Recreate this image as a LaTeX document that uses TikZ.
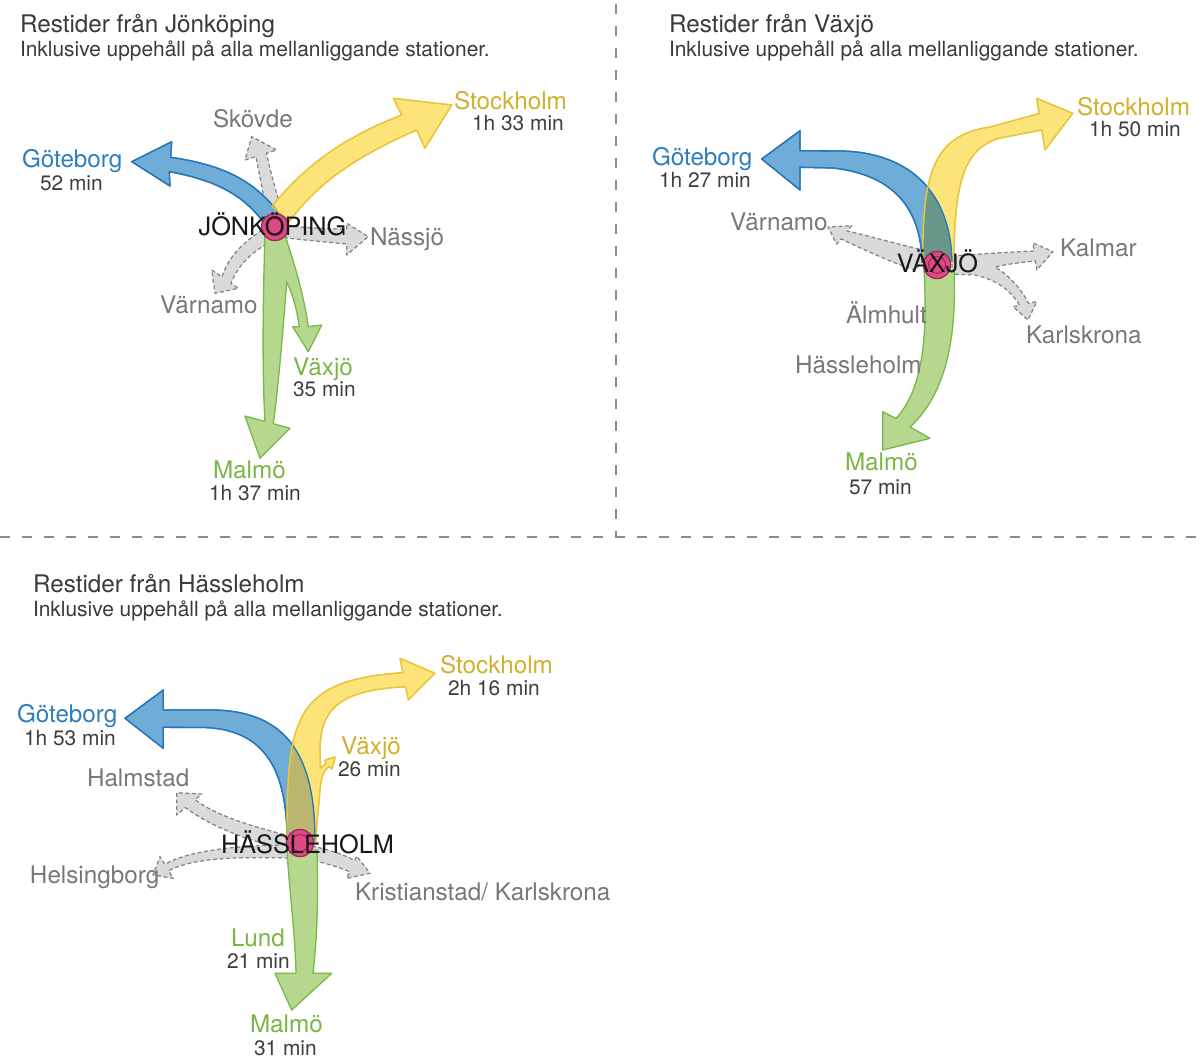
\documentclass[tikz,border=0pt]{standalone}
\usepackage{fontspec}
\setmainfont{TeX Gyre Heros}
\definecolor{blueF}{RGB}{112,172,216}
\definecolor{blueB}{RGB}{40,120,185}
\definecolor{yellowF}{RGB}{252,228,122}
\definecolor{yellowB}{RGB}{234,198,60}
\definecolor{greenF}{RGB}{182,216,142}
\definecolor{greenB}{RGB}{122,184,74}
\definecolor{grayF}{RGB}{218,218,218}
\definecolor{grayB}{RGB}{130,130,130}
\definecolor{ovTeal}{RGB}{104,152,138}
\definecolor{ovOlive}{RGB}{186,182,112}
\definecolor{ovJ}{RGB}{168,190,130}
\definecolor{pinkF}{RGB}{222,72,132}
\definecolor{pinkB}{RGB}{158,38,88}
\definecolor{titleC}{RGB}{58,58,58}
\definecolor{grayT}{RGB}{120,120,120}
\definecolor{timeC}{RGB}{62,62,62}
\definecolor{blueT}{RGB}{46,126,190}
\definecolor{yellowT}{RGB}{208,176,44}
\definecolor{greenT}{RGB}{122,182,70}
\definecolor{hubtext}{RGB}{24,24,24}
\definecolor{sepc}{RGB}{140,140,140}
% ---------- Jonkoping shapes
\def\JBlue{(278,212) .. controls (255,182) and (225,165) .. (170.7,157.3) -- (171.7,141.7) -- (131.7,161.7) -- (170,186) -- (169.3,171.7) .. controls (215,180) and (245,195) .. (266,226) -- cycle}
\def\JYellow{(272,206) .. controls (310,160) and (350,135) .. (401.7,115) -- (393.3,98.3) -- (451.7,105) -- (425,148.3) -- (416.7,130) .. controls (360,155) and (320,180) .. (289,222) -- cycle}
\def\JGreen{(265,232) .. controls (263,300) and (262,370) .. (265,421.5) -- (245,416) -- (260,458.3) -- (290,428.3) -- (273.3,423.7) .. controls (279,380) and (283,330) .. (286.7,282) .. controls (293,295) and (297,310) .. (299.3,326.7) -- (292.7,326.7) -- (308.3,351.7) -- (321.7,325) -- (308.3,326.7) .. controls (303,290) and (293,260) .. (284,232) -- cycle}
\def\JSkovde{(266,226) .. controls (266,200) and (260,180) .. (256,156.5) -- (245,160) -- (251.7,136.7) -- (276.7,150) -- (266.5,153.2) .. controls (272,180) and (280,200) .. (282,222) -- cycle}
\def\JNassjo{(288,226) .. controls (310,228) and (330,229) .. (346.7,229) -- (346.7,223.3) -- (368.3,236.7) -- (346.7,255) -- (346.7,244) .. controls (325,242) and (305,240) .. (286,238) -- cycle}
\def\JVarnamo{(262,230) .. controls (240,245) and (228,258) .. (222,277) -- (211.7,270) -- (215,293.3) -- (238.3,288.3) -- (231,283.3) .. controls (238,265) and (252,252) .. (270,242) -- cycle}
% ---------- Vaxjo shapes
\def\VBlue{(952,262) .. controls (951,195) and (912,152) .. (840,151) -- (800,150.7) -- (800,130.7) -- (761.7,159) -- (800,190) -- (800,167.3) -- (833,168) .. controls (895,175) and (921,210) .. (922,262) -- cycle}
\def\VYellow{(923,262) .. controls (922,170) and (935,135) .. (990,127) -- (1039.1,113.5) -- (1036.7,98.3) -- (1072.7,113.3) -- (1045,150) -- (1041.8,130) -- (1000,138) .. controls (965,148) and (954,180) .. (954,262) -- cycle}
\def\VGreen{(924,270) .. controls (928,340) and (922,390) .. (896,418.5) -- (882.7,411.7) -- (882.7,450) -- (930,438.3) -- (910,427) .. controls (945,395) and (957,340) .. (954,270) -- cycle}
\def\VVarnamo{(932,252) .. controls (900,245) and (870,236) .. (847,231) -- (851.7,225.7) -- (828,227) -- (836.7,244) -- (841,239) .. controls (865,250) and (890,262) .. (915,270) -- cycle}
\def\VKalmar{(952,256) .. controls (980,254) and (1010,252) .. (1034.1,251) -- (1033,243) -- (1053,251.7) -- (1036.7,270) -- (1035.5,261) .. controls (1015,263) and (1003,265) .. (995,267) .. controls (1010,276) and (1022,290) .. (1028.5,303.4) -- (1036.7,301.7) -- (1028,320) -- (1013,306.7) -- (1019.5,305.3) .. controls (1012,292) and (998,280) .. (975,275) -- (952,274) -- cycle}
% ---------- Hassleholm shapes
\def\HBlue{(315,840) .. controls (315,760) and (290,712) .. (215,710) -- (163.3,710) -- (163.3,690) -- (125,718.3) -- (163.3,748.3) -- (163.3,727.3) -- (205,727.5) .. controls (265,730) and (287,770) .. (287,840) -- cycle}
\def\HYellow{(287,842) .. controls (287,720) and (292,680) .. (402.9,672.7) -- (400,658.3) -- (435,673.3) -- (408.3,700) -- (405.7,686.7) .. controls (345,690) and (320,705) .. (320,750) -- (320.5,768) -- (326,763.5) -- (325,760) -- (335,757) -- (332,769) -- (328.5,766.5) .. controls (323,772) and (321,778) .. (320,790) .. controls (318,815) and (316,830) .. (316,842) -- cycle}
\def\HGreen{(287,850) .. controls (290,900) and (295,930) .. (296,973.3) -- (275,973.3) -- (291.7,1010) -- (331.7,973.3) -- (313,973.3) .. controls (318,930) and (318,890) .. (317,850) -- cycle}
\def\HHalmstad{(290,836) .. controls (250,826) and (215,815) .. (195,799.6) -- (201.7,794) -- (176.7,792.7) -- (176.7,815) -- (185.5,807.6) .. controls (210,826) and (250,842) .. (284,848) -- cycle}
\def\HHelsing{(292,845) .. controls (240,845) and (190,850) .. (164.7,864.3) -- (160,856.7) -- (153,875) -- (173.3,878.3) -- (168.6,870.7) .. controls (195,857) and (240,857) .. (292,858) -- cycle}
\def\HKrist{(312,846) .. controls (330,850) and (345,855) .. (354.7,860.5) -- (356.7,856) -- (370,873.3) -- (346.7,878.3) -- (349.7,871.6) .. controls (335,866) and (322,862) .. (310,860) -- cycle}
\begin{document}
\begin{tikzpicture}[x=0.02cm,y=-0.02cm,
  big/.style={font=\fontsize{13.8}{16}\selectfont},
  small/.style={font=\fontsize{11.9}{14}\selectfont},
  lbl/.style={inner sep=0pt, outer sep=0pt, anchor=base west},
  hublbl/.style={inner sep=0pt, outer sep=0pt, anchor=base, font=\fontsize{14.4}{16}\selectfont, text=hubtext},
  sep/.style={draw=sepc, line width=0.85pt, dash pattern=on 5.7pt off 6.8pt},
  blueA/.style={fill=blueF, draw=blueB, line width=0.75pt, line join=round},
  yellowA/.style={fill=yellowF, draw=yellowB, line width=0.75pt, line join=round},
  greenA/.style={fill=greenF, draw=greenB, line width=0.75pt, line join=round},
  grayA/.style={fill=grayF, draw=grayB, line width=0.7pt, dash pattern=on 2.2pt off 1.5pt, line join=round},
  hub/.style={circle, fill=pinkF, draw=pinkB, line width=0.7pt, minimum size=15.5pt, inner sep=0pt},
  ring/.style={draw=pinkB, line width=0.55pt}
]
\useasboundingbox (0,0) rectangle (1202,1057);
\fill[white] (0,0) rectangle (1202,1057);
% separators
\coordinate (vtop) at (616,4);
\coordinate (cross) at (616,537);
\coordinate (hl) at (0,537);
\coordinate (hr) at (1202,537);
\draw[sep] (vtop) -- (cross);
\draw[sep] (hl) -- (hr);

% ================= Panel 1: Jonkoping
\node[lbl,big,text=titleC] (t1) at (20,33) {Restider från Jönköping};
\node[lbl,small,text=titleC] (s1) at (20,57) {Inklusive uppehåll på alla mellanliggande stationer.};
\path[grayA] \JSkovde;
\path[grayA] \JNassjo;
\path[grayA] \JVarnamo;
\path[blueA] \JBlue;
\path[yellowA] \JYellow;
\begin{scope}\clip \JBlue; \fill[ovJ] \JYellow; \end{scope}
\draw[blueB, line width=0.75pt, line join=round] \JBlue;
\draw[yellowB, line width=0.75pt, line join=round] \JYellow;
\path[greenA] \JGreen;
\node[hub] (jc) at (275,227) {};
\draw[ring] (jc.center) circle (8.5);
\node[hublbl] (jlab) at (272.5,236) {JÖNKÖPING};
\node[lbl,big,text=grayT] (skovde) at (213,127.5) {Skövde};
\node[lbl,big,text=yellowT] (sto1) at (454,109.5) {Stockholm};
\node[lbl,small,text=timeC] (sto1t) at (472,131) {1h 33 min};
\node[lbl,big,text=blueT] (got1) at (22,167.5) {Göteborg};
\node[lbl,small,text=timeC] (got1t) at (40,190.5) {52 min};
\node[lbl,big,text=grayT] (nassjo) at (370,245.5) {Nässjö};
\node[lbl,big,text=grayT] (varn1) at (160,313) {Värnamo};
\node[lbl,big,text=greenT] (vax1) at (293,375.5) {Växjö};
\node[lbl,small,text=timeC] (vax1t) at (293,396) {35 min};
\node[lbl,big,text=greenT] (mal1) at (213,478) {Malmö};
\node[lbl,small,text=timeC] (mal1t) at (209,500.5) {1h 37 min};

% ================= Panel 2: Vaxjo
\node[lbl,big,text=titleC] (t2) at (669,33) {Restider från Växjö};
\node[lbl,small,text=titleC] (s2) at (669,57) {Inklusive uppehåll på alla mellanliggande stationer.};
\path[grayA] \VVarnamo;
\path[grayA] \VKalmar;
\path[blueA] \VBlue;
\path[yellowA] \VYellow;
\begin{scope}\clip \VBlue; \fill[ovTeal] \VYellow; \end{scope}
\draw[blueB, line width=0.75pt, line join=round] \VBlue;
\draw[yellowB, line width=0.75pt, line join=round] \VYellow;
\path[greenA] \VGreen;
\node[hub] (vc) at (937,265) {};
\draw[ring] (vc.center) circle (8.5);
\node[hublbl] (vlab) at (937.5,272.5) {VÄXJÖ};
\node[lbl,big,text=yellowT] (sto2) at (1077,115.5) {Stockholm};
\node[lbl,small,text=timeC] (sto2t) at (1089,137) {1h 50 min};
\node[lbl,big,text=blueT] (got2) at (652,165.5) {Göteborg};
\node[lbl,small,text=timeC] (got2t) at (659,188) {1h 27 min};
\node[lbl,big,text=grayT] (varn2) at (730,231) {Värnamo};
\node[lbl,big,text=grayT] (kalmar) at (1060,256) {Kalmar};
\node[lbl,big,text=grayT] (almhult) at (846,323) {Älmhult};
\node[lbl,big,text=grayT] (karls) at (1026,343) {Karlskrona};
\node[lbl,big,text=grayT] (hass2) at (795,373) {Hässleholm};
\node[lbl,big,text=greenT] (mal2) at (845,470) {Malmö};
\node[lbl,small,text=timeC] (mal2t) at (849,494) {57 min};

% ================= Panel 3: Hassleholm
\node[lbl,big,text=titleC] (t3) at (33,592) {Restider från Hässleholm};
\node[lbl,small,text=titleC] (s3) at (33,616) {Inklusive uppehåll på alla mellanliggande stationer.};
\path[grayA] \HHalmstad;
\path[grayA] \HHelsing;
\path[grayA] \HKrist;
\path[blueA] \HBlue;
\path[yellowA] \HYellow;
\begin{scope}\clip \HBlue; \fill[ovOlive] \HYellow; \end{scope}
\draw[blueB, line width=0.75pt, line join=round] \HBlue;
\draw[yellowB, line width=0.75pt, line join=round] \HYellow;
\path[greenA] \HGreen;
\node[hub] (hc) at (300,843) {};
\draw[ring] (hc.center) circle (8.5);
\node[hublbl] (hlab) at (307.5,853) {HÄSSLEHOLM};
\node[lbl,big,text=yellowT] (sto3) at (440,673.5) {Stockholm};
\node[lbl,small,text=timeC] (sto3t) at (448,695.5) {2h 16 min};
\node[lbl,big,text=blueT] (got3) at (17,722.5) {Göteborg};
\node[lbl,small,text=timeC] (got3t) at (24,745) {1h 53 min};
\node[lbl,big,text=yellowT] (vax3) at (341,754.5) {Växjö};
\node[lbl,small,text=timeC] (vax3t) at (338,776) {26 min};
\node[lbl,big,text=grayT] (halm) at (87,786.5) {Halmstad};
\node[lbl,big,text=grayT] (hels) at (30,883) {Helsingborg};
\node[lbl,big,text=grayT] (krist) at (355,900) {Kristianstad/ Karlskrona};
\node[lbl,big,text=greenT] (lund) at (231,946.5) {Lund};
\node[lbl,small,text=timeC] (lundt) at (227,968) {21 min};
\node[lbl,big,text=greenT] (mal3) at (250,1032.5) {Malmö};
\node[lbl,small,text=timeC] (mal3t) at (254,1055) {31 min};
\end{tikzpicture}
\end{document}
